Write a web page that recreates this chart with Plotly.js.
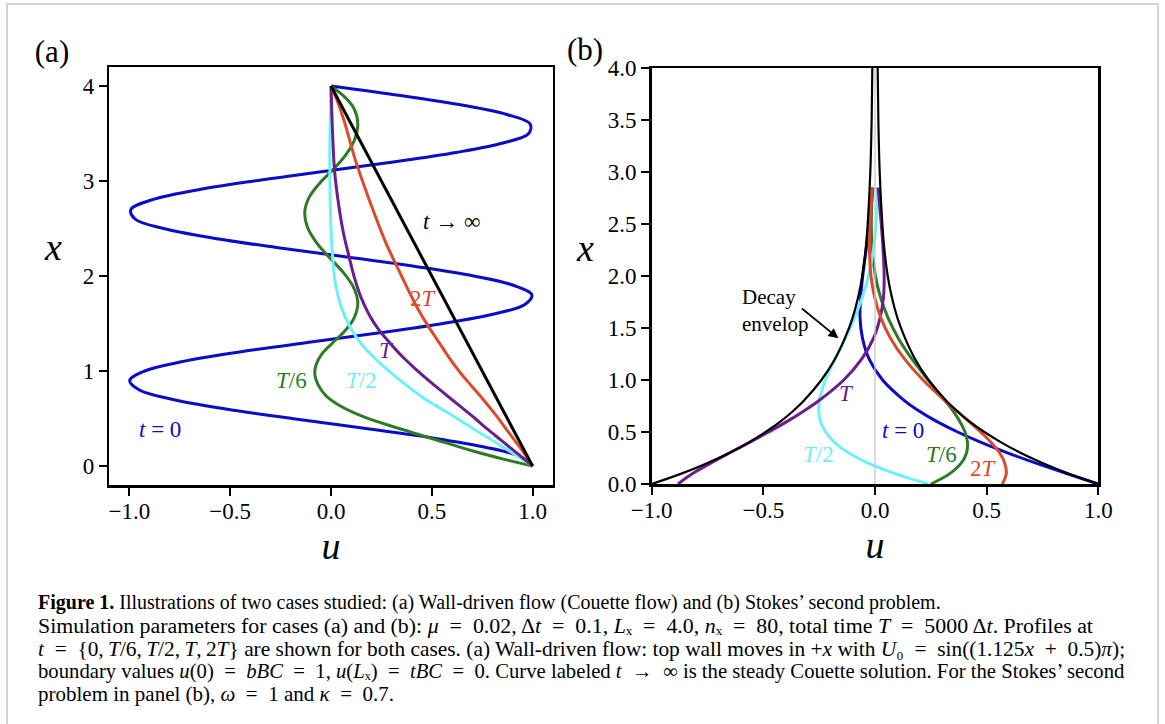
<!DOCTYPE html>
<html>
<head>
<meta charset="utf-8">
<script src="https://cdn.plot.ly/plotly-3.0.1.min.js"></script>
<style>html,body{margin:0;padding:0;background:#fff;}#chart{width:1165px;height:724px;}</style>
</head>
<body>
<div id="chart"></div>
<script>
// ---------- Panel (a): wall-driven (Couette) flow ----------
const xa_blue = [0,0.1,0.2,0.3,0.4,0.5,0.6,0.7,0.8,0.9,1.0,1.1,1.2,1.3,1.4,1.5,1.6,1.7,1.8,1.9,2.0,
                 2.1,2.2,2.3,2.4,2.5,2.6,2.7,2.8,2.9,3.0,3.1,3.2,3.3,3.4,3.5,3.6,3.7,3.8,3.9,4.0];
const ua_blue = [1,0.938,0.760,0.490,0.156,-0.195,-0.522,-0.785,-0.951,-0.999,-0.924,-0.735,-0.454,-0.118,0.233,
                 0.556,0.809,0.962,0.997,0.908,0.707,0.418,0.079,-0.271,-0.588,-0.831,-0.972,-0.993,-0.891,-0.679,
                 -0.383,-0.039,0.309,0.619,0.853,0.981,0.988,0.873,0.649,0.345,0.000];

const xa_green = [4.00,3.88,3.76,3.60,3.44,3.28,3.13,2.98,2.83,2.68,2.52,2.36,2.20,2.04,1.88,1.72,1.56,1.42,1.30,
                  1.18,1.06,0.96,0.86,0.74,0.64,0.52,0.40,0.29,0.16,0.07,0.00];
const ua_green = [0.000,0.070,0.115,0.133,0.118,0.075,0.015,-0.055,-0.108,-0.130,-0.118,-0.075,-0.010,0.060,0.112,
                  0.133,0.115,0.068,0.010,-0.045,-0.075,-0.080,-0.065,-0.025,0.040,0.160,0.330,0.500,0.700,0.860,1.000];

const xa_cyan = [0.00,0.21,0.40,0.56,0.70,0.88,1.07,1.26,1.46,1.68,1.92,2.20,2.50,2.80,3.20,3.60,4.00];
const ua_cyan = [1.000,0.845,0.700,0.580,0.470,0.356,0.250,0.160,0.095,0.050,0.022,0.008,0.000,-0.004,-0.006,-0.004,0.000];

const xa_purple = [0.00,0.14,0.27,0.39,0.50,0.63,0.76,0.89,1.02,1.16,1.30,1.44,1.59,1.77,1.97,2.20,2.45,2.75,3.10,3.50,4.00];
const ua_purple = [1.000,0.920,0.845,0.775,0.715,0.640,0.565,0.490,0.420,0.350,0.290,0.235,0.190,0.150,0.118,0.090,0.062,0.038,0.018,0.008,0.000];

const xa_red = [0.00,0.13,0.26,0.40,0.53,0.70,0.86,1.00,1.16,1.32,1.48,1.64,1.78,2.00,2.36,2.80,3.22,3.62,3.85,4.00];
const ua_red = [1.000,0.960,0.915,0.865,0.820,0.755,0.690,0.635,0.580,0.530,0.480,0.435,0.400,0.350,0.270,0.190,0.121,0.067,0.030,0.000];

const xa_inf = [0, 4];
const ua_inf = [1, 0];

// ---------- Panel (b): Stokes' second problem ----------
const xb_env = [0,0.1,0.2,0.3,0.4,0.5,0.6,0.7,0.8,1.0,1.2,1.4,1.6,1.8,2.0,2.3,2.6,3.0,3.5,4.0];
const ub_env_right = [1,0.867,0.752,0.651,0.565,0.490,0.424,0.368,0.319,0.240,0.180,0.135,0.100,0.075,0.057,0.040,0.030,0.021,0.015,0.012];
const ub_env_left = [-1,-0.867,-0.752,-0.651,-0.565,-0.490,-0.424,-0.368,-0.319,-0.240,-0.180,-0.135,-0.100,-0.075,-0.057,-0.040,-0.030,-0.021,-0.015,-0.012];
const xb = [0,0.1,0.2,0.3,0.4,0.5,0.6,0.7,0.8,1.0,1.2,1.4,1.6,1.8,2.0,2.3,2.6,2.85];
const ub_t0 = [1,0.858,0.721,0.593,0.475,0.370,0.278,0.199,0.133,0.034,-0.026,-0.056,-0.067,-0.064,-0.055,-0.037,-0.021,-0.009];
const ub_T6 = [0.250,0.335,0.386,0.410,0.414,0.403,0.380,0.350,0.314,0.238,0.166,0.105,0.058,0.024,0.002,-0.014,-0.016,-0.011];
const ub_T2 = [0.240,0.089,-0.030,-0.119,-0.181,-0.221,-0.244,-0.252,-0.249,-0.222,-0.179,-0.133,-0.091,-0.056,-0.029,-0.004,0.008,0.009];
const ub_T = [-0.882,-0.817,-0.736,-0.650,-0.562,-0.477,-0.395,-0.320,-0.252,-0.140,-0.060,-0.007,0.023,0.038,0.041,0.035,0.024,0.014];
const ub_2T = [0.570,0.588,0.581,0.558,0.520,0.473,0.421,0.368,0.314,0.215,0.133,0.070,0.026,-0.002,-0.018,-0.025,-0.020,-0.013];
const xb_axis = [0, 4];
const ub_axis = [0, 0];

// tick labels
const tickA_x = [-1, -0.5, 0, 0.5, 1];
const tickA_y = [0, 1, 2, 3, 4];
const tickB_y = [0, 0.5, 1, 1.5, 2, 2.5, 3, 3.5, 4];

const C = {blue:'#0b0bc8', green:'#2f7a25', cyan:'#6ef0f7', purple:'#6a1d8c', red:'#dc4a2c', black:'#000000', gray:'#c8c8c8'};
const SERIF = 'Liberation Serif, Times New Roman, serif';

function ln(u, x, color, w, xa, ya, spline) {
  return {x:u, y:x, xaxis:xa, yaxis:ya, type:'scatter', mode:'lines', hoverinfo:'skip',
          line:{color:color, width:w, shape: spline ? 'spline' : 'linear', smoothing:1}};
}

const traces = [
  ln(ua_blue, xa_blue, C.blue, 3, 'x', 'y', true),
  ln(ua_green, xa_green, C.green, 3, 'x', 'y', true),
  ln(ua_cyan, xa_cyan, C.cyan, 3, 'x', 'y', true),
  ln(ua_purple, xa_purple, C.purple, 3, 'x', 'y', true),
  ln(ua_red, xa_red, C.red, 3, 'x', 'y', true),
  ln(ua_inf, xa_inf, C.black, 3, 'x', 'y', false),

  ln(ub_t0, xb, C.blue, 3, 'x2', 'y2', true),
  ln(ub_T6, xb, C.green, 3, 'x2', 'y2', true),
  ln(ub_T2, xb, C.cyan, 3, 'x2', 'y2', true),
  ln(ub_T, xb, C.purple, 3, 'x2', 'y2', true),
  ln(ub_2T, xb, C.red, 3, 'x2', 'y2', true),
  ln(ub_axis, xb_axis, C.gray, 1.3, 'x2', 'y2', false),
  ln(ub_env_left, xb_env, C.black, 2.2, 'x2', 'y2', true),
  ln(ub_env_right, xb_env, C.black, 2.2, 'x2', 'y2', true)
];

const axBase = {showline:true, mirror:true, linecolor:'black', linewidth:2.5, ticks:'outside', ticklen:8,
  tickwidth:2, tickcolor:'black', showgrid:false, zeroline:false, fixedrange:true,
  tickfont:{family:SERIF, size:23, color:'black'}};

const W = 1165, H = 724;
const px = v => v / W, py = v => 1 - v / H;

function lab(text, x, y, color, size, xref, yref, extra) {
  return Object.assign({text:text, x:x, y:y, xref:xref, yref:yref, showarrow:false,
    font:{family:SERIF, size:size, color:color}, xanchor:'center', yanchor:'middle'}, extra || {});
}

const sp = '\u2009';
const eq = '\u2002=\u2002';
const pl = '\u2002+\u2002';
const sx = '\u2093';   // subscript x
const s0 = '\u2080';   // subscript 0
const caption = [
  '<b>Figure 1.</b> Illustrations of two cases studied: (a) Wall-driven flow (Couette flow) and (b) Stokes\u2019 second problem.',
  'Simulation parameters for cases (a) and (b): <i>\u03bc</i>' + eq + '0.02, \u0394<i>t</i>' + eq + '0.1, <i>L</i>' + sx + eq + '4.0, <i>n</i>' + sx + eq + '80, total time <i>T</i>' + eq + '5000\u2009\u0394<i>t</i>. Profiles at',
  '<i>t</i>' + eq + '{0,' + sp + '<i>T</i>/6,' + sp + '<i>T</i>/2,' + sp + '<i>T</i>,' + sp + '2<i>T</i>} are shown for both cases. (a) Wall-driven flow: top wall moves in +<i>x</i> with <i>U</i>' + s0 + eq + 'sin((1.125<i>x</i>' + pl + '0.5)<i>\u03c0</i>);',
  'boundary values <i>u</i>(0)' + eq + '<i>bBC</i>' + eq + '1, <i>u</i>(<i>L</i>' + sx + ')' + eq + '<i>tBC</i>' + eq + '0. Curve labeled <i>t</i>\u2002\u2192\u2002\u221e is the steady Couette solution. For the Stokes\u2019 second',
  'problem in panel (b), <i>\u03c9</i>' + eq + '1 and <i>\u03ba</i>' + eq + '0.7.'
];
const capY = [602, 625, 648.5, 671.5, 694];
const capSize = [20, 21.9, 21.4, 20.7, 21];

const annotations = [
  lab('(b)', px(585), py(49), 'black', 31, 'paper', 'paper'),
  lab('<i>x</i>', px(53), py(247), 'black', 38, 'paper', 'paper'),
  lab('<i>x</i>', px(585), py(248), 'black', 38, 'paper', 'paper'),

  lab('<i>t</i> = 0', -0.850, 0.389, C.blue, 23, 'x', 'y'),
  lab('<i>T</i>/6', -0.198, 0.90, C.green, 23, 'x', 'y'),
  lab('<i>T</i>/2', 0.152, 0.90, C.cyan, 23, 'x', 'y'),
  lab('<i>T</i>', 0.277, 1.22, C.purple, 23, 'x', 'y'),
  lab('2<i>T</i>', 0.459, 1.768, C.red, 23, 'x', 'y'),
  lab('<i>t</i> \u2192 \u221e', 0.598, 2.57, 'black', 23, 'x', 'y'),

  lab('Decay<br>envelop', -0.605, 1.668, 'black', 21, 'x2', 'y2', {xanchor:'left', align:'left'}),
  {x:-0.164, y:1.401, xref:'x2', yref:'y2', text:'', showarrow:true, ax:-38, ay:-31,
   arrowhead:2, arrowsize:1.1, arrowwidth:1.8, arrowcolor:'black'},
  lab('<i>T</i>', -0.127, 0.872, C.purple, 23, 'x2', 'y2'),
  lab('<i>t</i> = 0', 0.127, 0.513, C.blue, 23, 'x2', 'y2'),
  lab('<i>T</i>/2', -0.254, 0.279, C.cyan, 23, 'x2', 'y2'),
  lab('<i>T</i>/6', 0.299, 0.288, C.green, 23, 'x2', 'y2'),
  lab('2<i>T</i>', 0.486, 0.151, C.red, 23, 'x2', 'y2')
];
caption.forEach((t, i) => annotations.push(lab(t, px(36), py(capY[i]), 'black', capSize[i], 'paper', 'paper', {xanchor:'left', align:'left'})));

const uTitle = {text:'<i>u</i>', font:{family:SERIF, size:38, color:'black'}, standoff:10};

const layout = {
  width:W, height:H, margin:{l:0, r:0, t:0, b:0}, paper_bgcolor:'white', plot_bgcolor:'white',
  showlegend:false, font:{family:SERIF, color:'black'},
  title:{text:'(a)', font:{family:SERIF, size:31, color:'black'}, xref:'paper', yref:'paper',
         x:px(52), y:py(51), xanchor:'center', yanchor:'middle', pad:{t:0, b:0, l:0, r:0}},
  xaxis: Object.assign({}, axBase, {domain:[px(109.3), px(552.7)], range:[-1.1, 1.1], tickvals:tickA_x, tickformat:'.1f', anchor:'y', ticklabelstandoff:-4, title:uTitle}),
  yaxis: Object.assign({}, axBase, {domain:[py(485), py(67)], range:[-0.2, 4.2], tickvals:tickA_y, tickformat:'d', anchor:'x'}),
  xaxis2: Object.assign({}, axBase, {domain:[px(651.7), px(1098.3)], range:[-1, 1], tickvals:tickA_x, tickformat:'.1f', anchor:'y2', ticklabelstandoff:-4, title:uTitle}),
  yaxis2: Object.assign({}, axBase, {domain:[py(484), py(68)], range:[0, 4], tickvals:tickB_y, tickformat:'.1f', anchor:'x2'}),
  annotations: annotations,
  shapes: [{type:'rect', xref:'paper', yref:'paper', x0:px(7), x1:px(1158), y0:-0.05, y1:py(4),
            line:{color:'#c6c6c6', width:1.5}, fillcolor:'rgba(0,0,0,0)', layer:'below'}]
};

Plotly.newPlot('chart', traces, layout, {displayModeBar:false, staticPlot:true});
</script>
</body>
</html>
